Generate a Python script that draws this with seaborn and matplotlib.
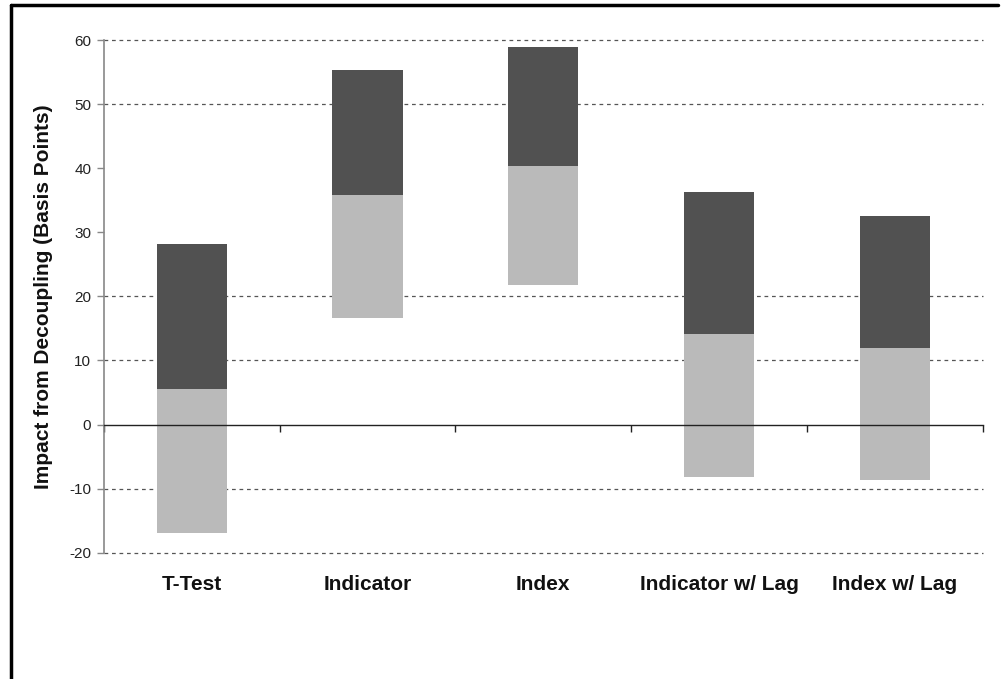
import matplotlib
matplotlib.use("Agg")
import matplotlib.pyplot as plt
from matplotlib.lines import Line2D
import seaborn as sns
import numpy as np
import pandas as pd

categories = ["T-Test", "Indicator", "Index", "Indicator w/ Lag", "Index w/ Lag"]
low_vals = [-17.0, 16.7, 21.8, -8.2, -8.6]
mid_vals = [5.5, 35.8, 40.3, 14.1, 11.9]
high_vals = [28.2, 55.3, 58.9, 36.3, 32.6]
y_ticks = [-20, -10, 0, 10, 20, 30, 40, 50, 60]
grid_values = [-20, -10, 10, 20, 50, 60]

sns.set_theme(style="white")
plt.rcParams["font.family"] = ["Liberation Sans", "DejaVu Sans"]

df = pd.DataFrame({
    "cat": categories,
    "low": low_vals,
    "mid": mid_vals,
    "high": high_vals,
})
df["lower_h"] = df["mid"] - df["low"]
df["upper_h"] = df["high"] - df["mid"]

fig = plt.figure(figsize=(10.08, 6.79), dpi=100)
ax = fig.add_axes([0.103, 0.186, 0.872, 0.755])

for g in grid_values:
    ax.axhline(g, color="#555555", lw=0.9, ls=(0, (3, 3)), zorder=0, clip_on=False)

sns.barplot(data=df, x="cat", y="lower_h", bottom=df["low"].to_numpy(),
            color="#bababa", width=0.4, saturation=1, ax=ax, zorder=2,
            edgecolor="none")
sns.barplot(data=df, x="cat", y="upper_h", bottom=df["mid"].to_numpy(),
            color="#515151", width=0.4, saturation=1, ax=ax, zorder=2,
            edgecolor="none")

ax.set_xlim(-0.5, 4.5)
ax.set_ylim(-20, 60)
ax.set_yticks(y_ticks)
ax.set_yticklabels([str(v) for v in y_ticks], fontsize=11, color="#222222")

for s in ["top", "right"]:
    ax.spines[s].set_visible(False)
ax.spines["left"].set_color("#888888")
ax.spines["left"].set_linewidth(1.2)
ax.spines["bottom"].set_position(("data", 0))
ax.spines["bottom"].set_color("#222222")
ax.spines["bottom"].set_linewidth(1.0)
ax.spines["bottom"].set_zorder(3)

ax.tick_params(axis="y", left=True, direction="out", length=5, color="#888888", width=1, pad=4)
ax.set_xticks(np.arange(len(categories)))
ax.set_xticklabels(categories, fontsize=15, fontweight="bold", color="#111111")
ax.set_xticks(np.arange(len(categories) + 1) - 0.5, minor=True)
ax.tick_params(axis="x", which="major", bottom=True, length=0, pad=108)
ax.tick_params(axis="x", which="minor", bottom=True, direction="out", length=5,
               color="#222222", width=1)

ax.set_xlabel("")
ax.set_ylabel("Impact from Decoupling (Basis Points)", fontsize=15,
              fontweight="bold", color="#111111")
ax.yaxis.set_label_coords(-0.058, 0.5)

# page frame (left and top edges)
fig.add_artist(Line2D([0.011, 0.011], [0.0, 0.993], transform=fig.transFigure,
                      color="black", lw=2.5))
fig.add_artist(Line2D([0.011, 0.99], [0.993, 0.993], transform=fig.transFigure,
                      color="black", lw=2.5))

fig.savefig("out.png", dpi=100, facecolor="white")
